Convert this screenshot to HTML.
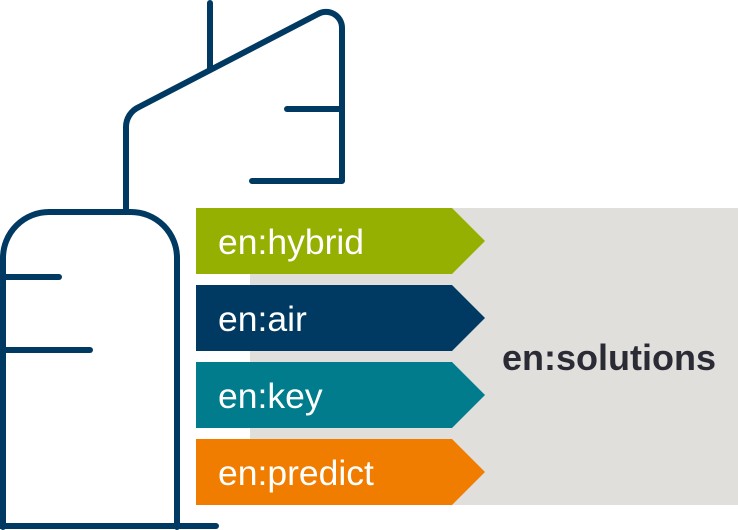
<!DOCTYPE html>
<html><head><style>
html,body{margin:0;padding:0;background:#fff;width:738px;height:530px;overflow:hidden}
</style></head><body>
<svg width="738" height="530" viewBox="0 0 738 530" xmlns="http://www.w3.org/2000/svg">
<rect x="250" y="208" width="488" height="297" fill="#e0dfdc"/>
<g fill="none" stroke="#003a63" stroke-width="6" stroke-linecap="round" stroke-linejoin="round">
<path d="M3,527 V258 A46,46 0 0 1 49,212 H131 A46,46 0 0 1 177,258 V527"/>
<path d="M0,526 H216"/>
<path d="M3,277 H59"/>
<path d="M3,350 H90"/>
<path d="M126,210 V128 A22,22 0 0 1 139,107 L318,14 A16,16 0 0 1 342,28 V181 H252"/>
<path d="M210,3 V70"/>
<path d="M287,109 H342"/>
</g>
<polygon points="196,208 452,208 485,241 452,274 196,274" fill="#95b000"/>
<polygon points="196,285 452,285 485,318 452,351 196,351" fill="#003a63"/>
<polygon points="196,362 452,362 485,395 452,428 196,428" fill="#007c8c"/>
<polygon points="196,439 452,439 485,472 452,505 196,505" fill="#f07d00"/>
<g font-family="Liberation Sans, sans-serif" font-size="35.5" fill="#fff">
<text x="218" y="254">en:hybrid</text>
<text x="218" y="331">en:air</text>
<text x="218" y="408">en:key</text>
<text x="218" y="485">en:predict</text>
</g>
<text x="502" y="370" font-family="Liberation Sans, sans-serif" font-size="36" font-weight="bold" fill="#2b2b35">en:solutions</text>
</svg>
</body></html>
